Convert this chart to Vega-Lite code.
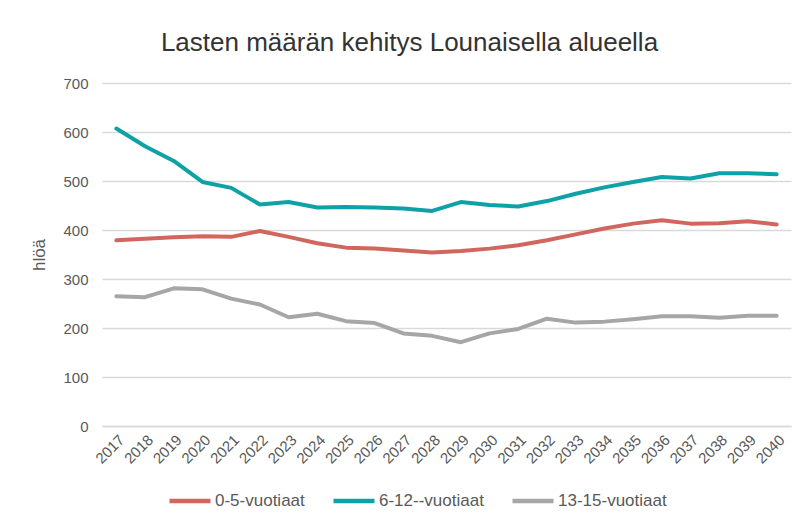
{
  "$schema": "https://vega.github.io/schema/vega-lite/v6.json",
  "width": 689,
  "height": 343,
  "autosize": "none",
  "padding": {"left": 102, "top": 83, "right": 11, "bottom": 93},
  "background": "white",
  "title": {
    "text": "Lasten määrän kehitys Lounaisella alueella",
    "anchor": "middle",
    "dx": -37,
    "offset": 20,
    "font": "Liberation Sans",
    "fontSize": 26,
    "fontWeight": "normal",
    "color": "#333333"
  },
  "data": {
    "values": [
      {"vuosi": "2017", "ryhma": "0-5-vuotiaat", "hloa": 379},
      {"vuosi": "2018", "ryhma": "0-5-vuotiaat", "hloa": 382},
      {"vuosi": "2019", "ryhma": "0-5-vuotiaat", "hloa": 385},
      {"vuosi": "2020", "ryhma": "0-5-vuotiaat", "hloa": 387},
      {"vuosi": "2021", "ryhma": "0-5-vuotiaat", "hloa": 386},
      {"vuosi": "2022", "ryhma": "0-5-vuotiaat", "hloa": 398},
      {"vuosi": "2023", "ryhma": "0-5-vuotiaat", "hloa": 386},
      {"vuosi": "2024", "ryhma": "0-5-vuotiaat", "hloa": 373},
      {"vuosi": "2025", "ryhma": "0-5-vuotiaat", "hloa": 364},
      {"vuosi": "2026", "ryhma": "0-5-vuotiaat", "hloa": 362},
      {"vuosi": "2027", "ryhma": "0-5-vuotiaat", "hloa": 358},
      {"vuosi": "2028", "ryhma": "0-5-vuotiaat", "hloa": 354},
      {"vuosi": "2029", "ryhma": "0-5-vuotiaat", "hloa": 357},
      {"vuosi": "2030", "ryhma": "0-5-vuotiaat", "hloa": 362},
      {"vuosi": "2031", "ryhma": "0-5-vuotiaat", "hloa": 369},
      {"vuosi": "2032", "ryhma": "0-5-vuotiaat", "hloa": 379},
      {"vuosi": "2033", "ryhma": "0-5-vuotiaat", "hloa": 391},
      {"vuosi": "2034", "ryhma": "0-5-vuotiaat", "hloa": 403},
      {"vuosi": "2035", "ryhma": "0-5-vuotiaat", "hloa": 413},
      {"vuosi": "2036", "ryhma": "0-5-vuotiaat", "hloa": 420},
      {"vuosi": "2037", "ryhma": "0-5-vuotiaat", "hloa": 413},
      {"vuosi": "2038", "ryhma": "0-5-vuotiaat", "hloa": 414},
      {"vuosi": "2039", "ryhma": "0-5-vuotiaat", "hloa": 418},
      {"vuosi": "2040", "ryhma": "0-5-vuotiaat", "hloa": 411},
      {"vuosi": "2017", "ryhma": "6-12--vuotiaat", "hloa": 607},
      {"vuosi": "2018", "ryhma": "6-12--vuotiaat", "hloa": 571},
      {"vuosi": "2019", "ryhma": "6-12--vuotiaat", "hloa": 541},
      {"vuosi": "2020", "ryhma": "6-12--vuotiaat", "hloa": 498},
      {"vuosi": "2021", "ryhma": "6-12--vuotiaat", "hloa": 486},
      {"vuosi": "2022", "ryhma": "6-12--vuotiaat", "hloa": 452},
      {"vuosi": "2023", "ryhma": "6-12--vuotiaat", "hloa": 457},
      {"vuosi": "2024", "ryhma": "6-12--vuotiaat", "hloa": 446},
      {"vuosi": "2025", "ryhma": "6-12--vuotiaat", "hloa": 447},
      {"vuosi": "2026", "ryhma": "6-12--vuotiaat", "hloa": 446},
      {"vuosi": "2027", "ryhma": "6-12--vuotiaat", "hloa": 444},
      {"vuosi": "2028", "ryhma": "6-12--vuotiaat", "hloa": 439},
      {"vuosi": "2029", "ryhma": "6-12--vuotiaat", "hloa": 457},
      {"vuosi": "2030", "ryhma": "6-12--vuotiaat", "hloa": 451},
      {"vuosi": "2031", "ryhma": "6-12--vuotiaat", "hloa": 448},
      {"vuosi": "2032", "ryhma": "6-12--vuotiaat", "hloa": 459},
      {"vuosi": "2033", "ryhma": "6-12--vuotiaat", "hloa": 474},
      {"vuosi": "2034", "ryhma": "6-12--vuotiaat", "hloa": 487},
      {"vuosi": "2035", "ryhma": "6-12--vuotiaat", "hloa": 498},
      {"vuosi": "2036", "ryhma": "6-12--vuotiaat", "hloa": 508},
      {"vuosi": "2037", "ryhma": "6-12--vuotiaat", "hloa": 505},
      {"vuosi": "2038", "ryhma": "6-12--vuotiaat", "hloa": 516},
      {"vuosi": "2039", "ryhma": "6-12--vuotiaat", "hloa": 516},
      {"vuosi": "2040", "ryhma": "6-12--vuotiaat", "hloa": 514},
      {"vuosi": "2017", "ryhma": "13-15-vuotiaat", "hloa": 265},
      {"vuosi": "2018", "ryhma": "13-15-vuotiaat", "hloa": 263},
      {"vuosi": "2019", "ryhma": "13-15-vuotiaat", "hloa": 281},
      {"vuosi": "2020", "ryhma": "13-15-vuotiaat", "hloa": 279},
      {"vuosi": "2021", "ryhma": "13-15-vuotiaat", "hloa": 260},
      {"vuosi": "2022", "ryhma": "13-15-vuotiaat", "hloa": 248},
      {"vuosi": "2023", "ryhma": "13-15-vuotiaat", "hloa": 222},
      {"vuosi": "2024", "ryhma": "13-15-vuotiaat", "hloa": 229},
      {"vuosi": "2025", "ryhma": "13-15-vuotiaat", "hloa": 214},
      {"vuosi": "2026", "ryhma": "13-15-vuotiaat", "hloa": 210},
      {"vuosi": "2027", "ryhma": "13-15-vuotiaat", "hloa": 189},
      {"vuosi": "2028", "ryhma": "13-15-vuotiaat", "hloa": 184},
      {"vuosi": "2029", "ryhma": "13-15-vuotiaat", "hloa": 171},
      {"vuosi": "2030", "ryhma": "13-15-vuotiaat", "hloa": 189},
      {"vuosi": "2031", "ryhma": "13-15-vuotiaat", "hloa": 198},
      {"vuosi": "2032", "ryhma": "13-15-vuotiaat", "hloa": 219},
      {"vuosi": "2033", "ryhma": "13-15-vuotiaat", "hloa": 211},
      {"vuosi": "2034", "ryhma": "13-15-vuotiaat", "hloa": 213},
      {"vuosi": "2035", "ryhma": "13-15-vuotiaat", "hloa": 218},
      {"vuosi": "2036", "ryhma": "13-15-vuotiaat", "hloa": 224},
      {"vuosi": "2037", "ryhma": "13-15-vuotiaat", "hloa": 224},
      {"vuosi": "2038", "ryhma": "13-15-vuotiaat", "hloa": 221},
      {"vuosi": "2039", "ryhma": "13-15-vuotiaat", "hloa": 225},
      {"vuosi": "2040", "ryhma": "13-15-vuotiaat", "hloa": 225}
    ]
  },
  "mark": {"type": "line", "strokeWidth": 4, "strokeCap": "round", "strokeJoin": "round"},
  "encoding": {
    "x": {
      "field": "vuosi",
      "type": "ordinal",
      "scale": {"type": "point", "padding": 0.5},
      "axis": {
        "title": null,
        "labelAngle": -45,
        "labelFont": "Liberation Sans",
        "labelFontSize": 15,
        "labelColor": "#595959",
        "labelPadding": 6,
        "ticks": false,
        "domain": true,
        "domainColor": "#d9d9d9",
        "domainWidth": 1.5,
        "grid": false
      }
    },
    "y": {
      "field": "hloa",
      "type": "quantitative",
      "scale": {"domain": [0, 700], "nice": false},
      "axis": {
        "title": "hlöä",
        "titleFont": "Liberation Sans",
        "titleFontSize": 17,
        "titleFontWeight": "normal",
        "titleColor": "#595959",
        "titlePadding": 14,
        "values": [0, 100, 200, 300, 400, 500, 600, 700],
        "labelFont": "Liberation Sans",
        "labelFontSize": 15,
        "labelColor": "#595959",
        "labelPadding": 14,
        "ticks": false,
        "domain": false,
        "grid": true,
        "gridColor": "#d9d9d9",
        "gridWidth": 1.5
      }
    },
    "color": {
      "field": "ryhma",
      "type": "nominal",
      "sort": ["0-5-vuotiaat", "6-12--vuotiaat", "13-15-vuotiaat"],
      "scale": {
        "domain": ["0-5-vuotiaat", "6-12--vuotiaat", "13-15-vuotiaat"],
        "range": ["#D1665F", "#0EA2A6", "#A6A6A6"]
      },
      "legend": {
        "title": null,
        "orient": "none",
        "direction": "horizontal",
        "legendX": 65,
        "legendY": 395,
        "symbolType": "stroke",
        "symbolSize": 1681,
        "symbolStrokeWidth": 4.5,
        "labelOffset": 2,
        "columnPadding": 19,
        "labelFont": "Liberation Sans",
        "labelFontSize": 17,
        "labelColor": "#595959"
      }
    }
  },
  "config": {
    "view": {"stroke": null}
  }
}
